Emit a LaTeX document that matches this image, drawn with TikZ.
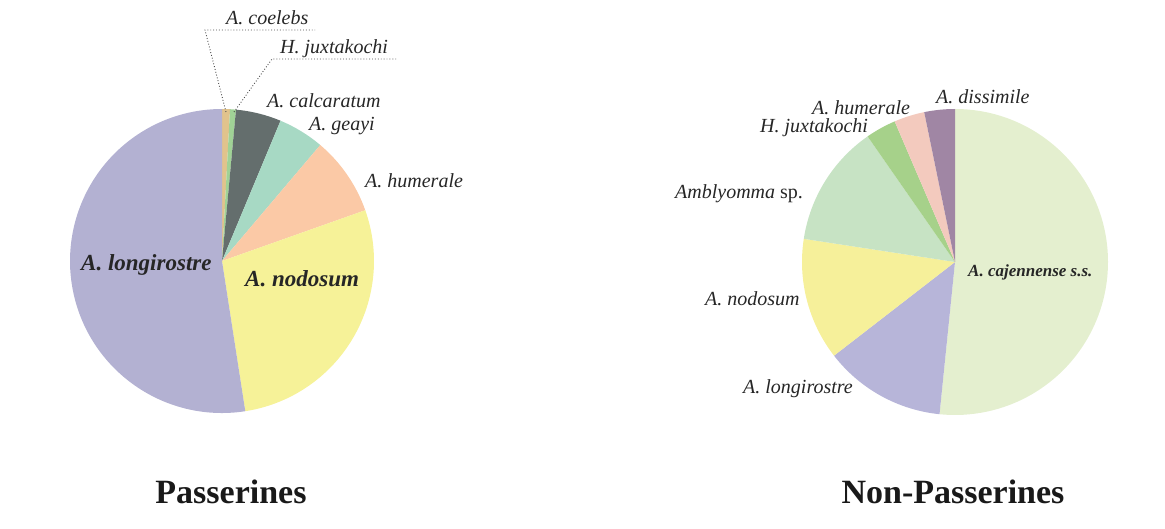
\documentclass[tikz,border=0pt]{standalone}
\usepackage{fontspec}
\setmainfont{Liberation Serif}
\usetikzlibrary{calc}

\definecolor{longc}{HTML}{B3B1D2}
\definecolor{nodoc}{HTML}{F6F298}
\definecolor{humec}{HTML}{FBC9A6}
\definecolor{geayc}{HTML}{A7D9C4}
\definecolor{calcc}{HTML}{646E6D}
\definecolor{juxtc}{HTML}{A0D296}
\definecolor{coelc}{HTML}{E1C38C}
\definecolor{cajec}{HTML}{E4EFCF}
\definecolor{nlongc}{HTML}{B7B5D9}
\definecolor{nnodoc}{HTML}{F6F09A}
\definecolor{amblc}{HTML}{C7E3C4}
\definecolor{njuxtc}{HTML}{A6D18A}
\definecolor{nhumec}{HTML}{F3CABE}
\definecolor{dissc}{HTML}{A086A4}

\tikzset{
  lbl/.style={anchor=base west,inner sep=0pt,text=black!85,
    font=\fontsize{20}{24}\selectfont\itshape},
  blbl/.style={lbl,font=\fontsize{23}{27}\selectfont\bfseries\itshape},
  ttl/.style={anchor=base,inner sep=0pt,text=black!90,
    font=\fontsize{34}{40}\selectfont\bfseries},
  leader/.style={dotted,line width=0.9pt,black!70}
}

\begin{document}
\begin{tikzpicture}[x=1pt,y=-1pt]
  \useasboundingbox (0,0) rectangle (1165,529);

  % Passerines, 143 ticks
  \coordinate (pc) at (222,261);
  \foreach \a/\b/\c in {0/1.2/coelc,1.2/2.1/juxtc,2.1/9/calcc,9/16/geayc,
      16/28/humec,28/68/nodoc,68/143/longc}
    \fill[\c] (pc) -- ++({-90+\a*(360/143)}:152)
      arc[start angle={-90+\a*(360/143)},end angle={-90+\b*(360/143)},radius=152] -- cycle;

  % Non-Passerines, 31 ticks
  \coordinate (nc) at (955,262);
  \foreach \a/\b/\c in {0/16/cajec,16/20/nlongc,20/24/nnodoc,24/28/amblc,
      28/29/njuxtc,29/30/nhumec,30/31/dissc}
    \fill[\c] (nc) -- ++({-90+\a*(360/31)}:153)
      arc[start angle={-90+\a*(360/31)},end angle={-90+\b*(360/31)},radius=153] -- cycle;

  % labels, left
  \node[lbl] (coe) at (226,25) {A. coelebs};
  \node[lbl] (jux) at (280,54) {H. juxtakochi};
  \node[lbl] (cal) at (267,108) {A. calcaratum};
  \node[lbl] (gea) at (309,131) {A. geayi};
  \node[lbl] (hum) at (365,188) {A. humerale};
  \node[blbl] (nod) at (245,287) {A. nodosum};
  \node[blbl] (lon) at (81,271) {A. longirostre};

  \coordinate (coein) at (226,112);
  \coordinate (coeknee) at (205,30);
  \coordinate (juxin) at (234,112);
  \coordinate (juxknee) at (272,59);
  \draw[leader] (coein) -- (coeknee) -- (coeknee -| 315,0);
  \draw[leader] (juxin) -- (juxknee) -- (juxknee -| 397,0);

  % labels, right
  \node[lbl] (ndis) at (936,104) {A. dissimile};
  \node[lbl] (nhum) at (812,115) {A. humerale};
  \node[lbl] (njux) at (760,133) {H. juxtakochi};
  \node[lbl] (namb) at (675,199) {Amblyomma \upshape sp.};
  \node[lbl] (nnod) at (705,306) {A. nodosum};
  \node[lbl] (nlon) at (743,393) {A. longirostre};
  \node[blbl,font=\fontsize{17}{20}\selectfont\bfseries\itshape] (ncaj) at (968,277) {A. cajennense s.s.};

  % titles
  \node[ttl] (pas) at (231,503) {Passerines};
  \node[ttl] (npas) at (953,503) {Non-Passerines};
\end{tikzpicture}
\end{document}
